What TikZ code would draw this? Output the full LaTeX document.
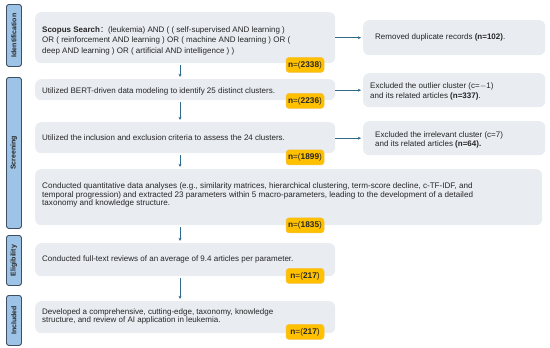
\documentclass[tikz,border=0pt]{standalone}
\usepackage{fontspec}
\setmainfont{Liberation Sans}
\newfontfamily\cjk{Noto Sans CJK SC}
\usetikzlibrary{arrows.meta,calc}
\definecolor{boxgray}{HTML}{E9ECF1}
\definecolor{stagefill}{HTML}{9DC3E6}
\definecolor{stageline}{HTML}{3E4D61}
\definecolor{badgefill}{HTML}{FFC000}
\definecolor{badgeline}{HTML}{F5C04A}
\definecolor{arrowcol}{HTML}{2F6A8A}
\definecolor{txt}{HTML}{262626}
\tikzset{
  box/.style={fill=boxgray, rounded corners=6pt, anchor=north west, inner sep=0pt},
  btext/.style={anchor=west, inner sep=0pt, align=left, text=txt},
  stage/.style={fill=stagefill, draw=stageline, line width=0.9pt, rounded corners=2.5pt, minimum width=15pt, inner sep=0pt, anchor=north west},
  stagetext/.style={rotate=90, font=\bfseries\fontsize{7}{7}\selectfont, text=txt},
  badge/.style={fill=badgefill, draw=badgeline, line width=0.5pt, rounded corners=3pt, minimum width=38pt, minimum height=15pt, inner sep=0pt, font=\fontsize{8.3}{9}\selectfont, text=txt},
  flow/.style={draw=arrowcol, line width=0.8pt, -{Stealth[length=3.2pt,width=3pt]}}
}
\begin{document}
\begin{tikzpicture}[x=1pt,y=-1pt]
\useasboundingbox (0,0) rectangle (550,348);
% stage bars
\node[stage, minimum height=62pt] (s1) at (6,4) {};
\node[stagetext] (t1) at (s1.center) {Identification};
\node[stage, minimum height=151pt] (s2) at (6,77) {};
\node[stagetext] (t2) at (s2.center) {Screening};
\node[stage, minimum height=50pt] (s3) at (6,235) {};
\node[stagetext] (t3) at (s3.center) {Eligibility};
\node[stage, minimum height=50pt] (s4) at (6,295) {};
\node[stagetext] (t4) at (s4.center) {Included};
% main boxes
\node[box, minimum width=300pt, minimum height=51pt] (b1) at (35,12) {};
\node[box, minimum width=300pt, minimum height=21pt] (b2) at (35,79) {};
\node[box, minimum width=300pt, minimum height=31pt] (b3) at (35,122) {};
\node[box, minimum width=507pt, minimum height=56pt] (b4) at (35,169) {};
\node[box, minimum width=300pt, minimum height=33pt] (b5) at (35,243) {};
\node[box, minimum width=300pt, minimum height=32pt] (b6) at (35,301) {};
% right boxes
\node[box, minimum width=182pt, minimum height=35pt] (r1) at (363,20) {};
\node[box, minimum width=182pt, minimum height=34pt] (r2) at (363,73) {};
\node[box, minimum width=182pt, minimum height=34pt] (r3) at (363,121) {};
% texts
\node[btext, font=\fontsize{8}{10.5}\selectfont] (x1) at ([xshift=7pt,yshift=-3pt]b1.west)
  {{\bfseries Scopus Search}{\cjk：}(leukemia) AND ( ( self-supervised AND learning )\\
   OR ( reinforcement AND learning ) OR ( machine AND learning ) OR (\\
   deep AND learning ) OR ( artificial AND intelligence ) )};
\node[btext, font=\fontsize{8}{9}\selectfont] (x2) at ([xshift=7pt,yshift=-1.5pt]b2.west)
  {Utilized BERT-driven data modeling to identify 25 distinct clusters.};
\node[btext, font=\fontsize{8}{9}\selectfont] (x3) at ([xshift=7pt,yshift=0pt]b3.west)
  {Utilized the inclusion and exclusion criteria to assess the 24 clusters.};
\node[btext, font=\fontsize{8.1}{8.6}\selectfont] (x4) at ([xshift=7pt,yshift=2pt]b4.west)
  {Conducted quantitative data analyses (e.g., similarity matrices, hierarchical clustering, term-score decline, c-TF-IDF, and\\
   temporal progression) and extracted 23 parameters within 5 macro-parameters, leading to the development of a detailed\\
   taxonomy and knowledge structure.};
\node[btext, font=\fontsize{8}{9}\selectfont] (x5) at ([xshift=7pt,yshift=0pt]b5.west)
  {Conducted full-text reviews of an average of 9.4 articles per parameter.};
\node[btext, font=\fontsize{8}{8}\selectfont] (x6) at ([xshift=7pt,yshift=1pt]b6.west)
  {Developed a comprehensive, cutting-edge, taxonomy, knowledge\\
   structure, and review of AI application in leukemia.};
\node[btext, font=\fontsize{8}{10.5}\selectfont] (y1) at ([xshift=12pt,yshift=0pt]r1.west)
  {Removed duplicate records \textbf{(n=102)}.};
\node[btext, font=\fontsize{8}{10.5}\selectfont] (y2) at ([xshift=7pt,yshift=-1.3pt]r2.west)
  {Excluded the outlier cluster (c=$-$1)\\ and its related articles \textbf{(n=337)}.};
\node[btext, font=\fontsize{8}{9.3}\selectfont] (y3) at ([xshift=12pt,yshift=-1.5pt]r3.west)
  {Excluded the irrelevant cluster (c=7)\\ and its related articles \textbf{(n=64).}};
% badges
\coordinate (bx) at (305,0);
\node[badge, yshift=-1.5pt] (n1) at (b1.south -| bx) {\textbf{n}=(\textbf{2338})};
\node[badge, yshift=-0.5pt] (n2) at (b2.south -| bx) {\textbf{n}=(\textbf{2236})};
\node[badge, yshift=-4pt] (n3) at (b3.south -| bx) {\textbf{n}=(\textbf{1899})};
\node[badge, yshift=0pt] (n4) at (b4.south -| bx) {\textbf{n}=(\textbf{1835})};
\node[badge, yshift=0.5pt] (n5) at (b5.south -| bx) {\textbf{n}=(\textbf{217})};
\node[badge, yshift=1.5pt] (n6) at (b6.south -| bx) {\textbf{n}=(\textbf{217})};
% vertical arrows
\coordinate (ax) at (180,0);
\draw[flow, shorten <=2pt, shorten >=2pt] (b1.south -| ax) -- (b2.north -| ax);
\draw[flow, shorten <=2pt, shorten >=2pt] (b2.south -| ax) -- (b3.north -| ax);
\draw[flow, shorten <=2pt, shorten >=2pt] (b3.south -| ax) -- (b4.north -| ax);
\draw[flow, shorten <=2pt, shorten >=2pt] (b4.south -| ax) -- (b5.north -| ax);
\draw[flow, shorten <=2pt, shorten >=2pt] (b5.south -| ax) -- (b6.north -| ax);
% horizontal arrows
\draw[flow, shorten >=2pt] (b1.east |- r1.west) -- (r1.west);
\draw[flow, shorten >=2pt] (b2.east |- r2.west) -- (r2.west);
\draw[flow, shorten >=2pt] (b3.east |- r3.west) -- (r3.west);
\end{tikzpicture}
\end{document}
